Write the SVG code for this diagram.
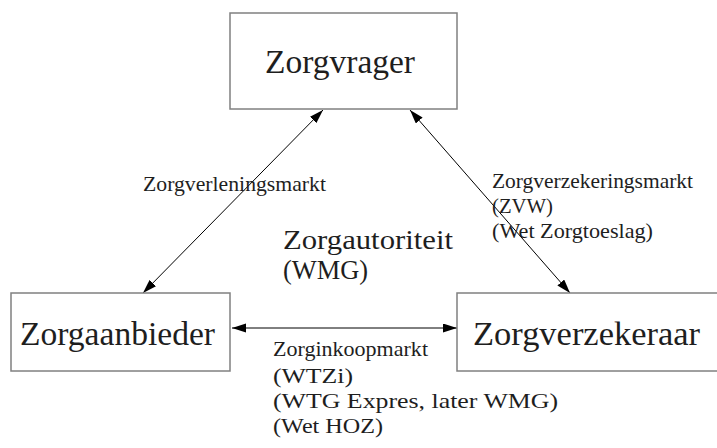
<svg xmlns="http://www.w3.org/2000/svg" width="717" height="448" viewBox="0 0 717 448">
<style>
.box{fill:#fff;stroke:#808080;stroke-width:1.5}
text{font-family:'Liberation Serif','Times New Roman',Times,serif;fill:#1e1e1e}
.big{font-size:33px}
.mid{font-size:27px}
.sm{font-size:22px}
.conn{stroke:#000;stroke-width:1;fill:none;marker-start:url(#ah);marker-end:url(#ah)}
</style>
<defs>
<marker id="ah" markerUnits="userSpaceOnUse" markerWidth="15" markerHeight="10" refX="14" refY="4.5" orient="auto-start-reverse">
<path d="M0,0 L14,4.5 L0,9 z" fill="#000"/>
</marker>
</defs>
<rect width="717" height="448" fill="#fff"/>
<g id="connectors">
<line class="conn" x1="323" y1="110" x2="143" y2="293"/>
<line class="conn" x1="410" y1="110" x2="570" y2="293"/>
<line class="conn" x1="232" y1="328" x2="457" y2="328"/>
</g>
<g id="zorgvrager">
<rect class="box" x="230" y="13" width="227" height="96"/>
<text class="big" x="265" y="73" textLength="150" lengthAdjust="spacingAndGlyphs">Zorgvrager</text>
</g>
<g id="zorgaanbieder">
<rect class="box" x="11" y="293" width="219" height="78"/>
<text class="big" x="20" y="345" textLength="195" lengthAdjust="spacingAndGlyphs">Zorgaanbieder</text>
</g>
<g id="zorgverzekeraar">
<rect class="box" x="457" y="293" width="275" height="78"/>
<text class="big" x="473" y="345" textLength="227" lengthAdjust="spacingAndGlyphs">Zorgverzekeraar</text>
</g>
<g id="labels">
<text class="sm" x="143" y="191" textLength="183" lengthAdjust="spacingAndGlyphs">Zorgverleningsmarkt</text>
<text class="mid" x="283" y="249" textLength="170" lengthAdjust="spacingAndGlyphs">Zorgautoriteit</text>
<text class="mid" x="283" y="279" textLength="85" lengthAdjust="spacingAndGlyphs">(WMG)</text>
<text class="sm" x="492" y="188" textLength="201" lengthAdjust="spacingAndGlyphs">Zorgverzekeringsmarkt</text>
<text class="sm" x="492" y="213" textLength="61" lengthAdjust="spacingAndGlyphs">(ZVW)</text>
<text class="sm" x="492" y="238" textLength="161" lengthAdjust="spacingAndGlyphs">(Wet Zorgtoeslag)</text>
<text class="sm" x="273" y="356" textLength="155" lengthAdjust="spacingAndGlyphs">Zorginkoopmarkt</text>
<text class="sm" x="273" y="383" textLength="80" lengthAdjust="spacingAndGlyphs">(WTZi)</text>
<text class="sm" x="273" y="408" textLength="285" lengthAdjust="spacingAndGlyphs">(WTG Expres, later WMG)</text>
<text class="sm" x="273" y="433" textLength="110" lengthAdjust="spacingAndGlyphs">(Wet HOZ)</text>
</g>
</svg>
